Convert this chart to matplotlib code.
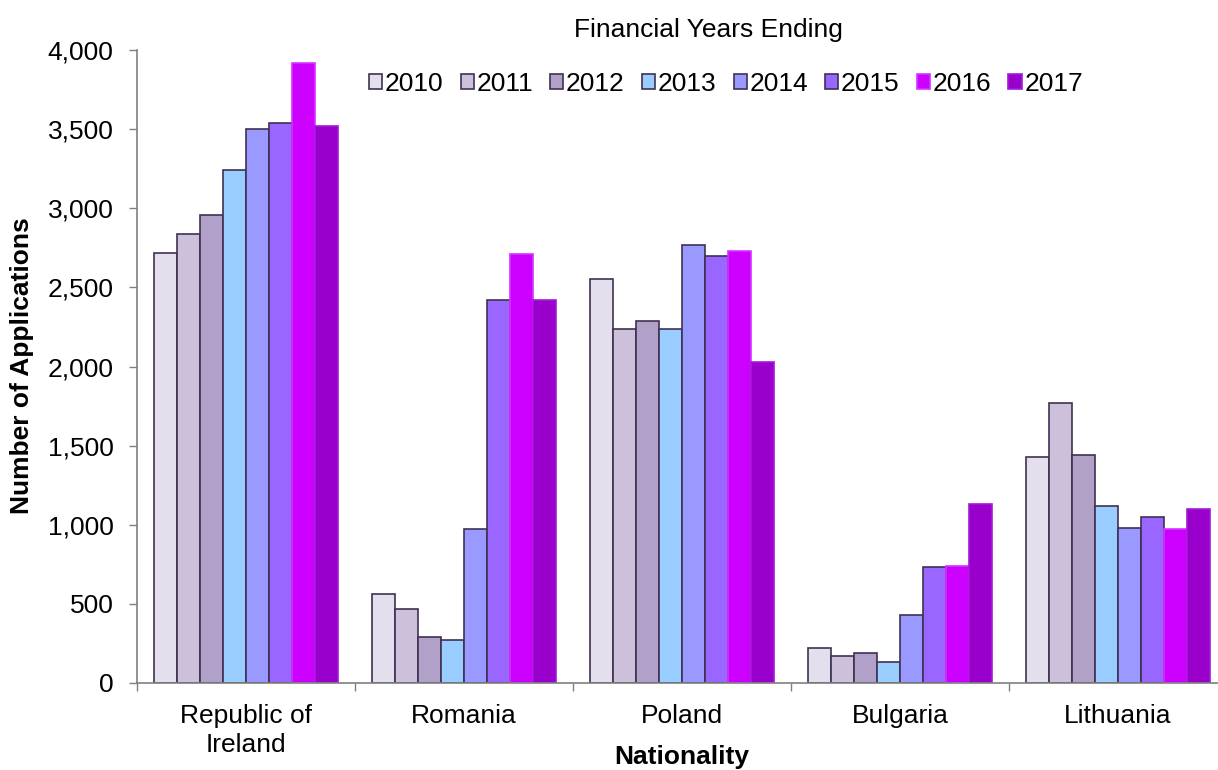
import matplotlib
matplotlib.use("Agg")
import matplotlib.pyplot as plt
import numpy as np
from matplotlib.ticker import FuncFormatter, FixedLocator

plt.rcParams['font.family'] = ['Liberation Sans', 'DejaVu Sans']

categories = ["Republic of\nIreland", "Romania", "Poland", "Bulgaria", "Lithuania"]
years = ["2010", "2011", "2012", "2013", "2014", "2015", "2016", "2017"]
v2010 = [2720, 560, 2550, 220, 1430]
v2011 = [2840, 470, 2240, 170, 1770]
v2012 = [2960, 290, 2290, 190, 1440]
v2013 = [3240, 270, 2240, 130, 1120]
v2014 = [3500, 970, 2770, 430, 980]
v2015 = [3540, 2420, 2700, 730, 1050]
v2016 = [3920, 2710, 2730, 740, 970]
v2017 = [3520, 2420, 2030, 1130, 1100]
series = [v2010, v2011, v2012, v2013, v2014, v2015, v2016, v2017]

colors = ["#E4DFEC", "#CCC0DA", "#B1A0C7", "#99CCFF", "#9999FF", "#9966FF", "#CC00FF", "#9900CC"]
edges = ["#3F3151"] * 6 + ["#D633FF", "#A31AD6"]

FS = 19

fig = plt.figure(figsize=(12.18, 7.70), dpi=100)
ax = fig.add_axes([137/1218, 1 - 683/770, 1090/1218, 633/770])

x = np.arange(len(categories))
w = 0.84 / 8
for i, (vals, c, e) in enumerate(zip(series, colors, edges)):
    ax.bar(x - 0.42 + w * (i + 0.5), vals, width=w, color=c, edgecolor=e,
           linewidth=1.2, label=years[i])

ax.set_xlim(-0.5, 4.5)
ax.set_ylim(0, 4000)
ax.set_yticks(np.arange(0, 4001, 500))
ax.yaxis.set_major_formatter(FuncFormatter(lambda v, p: f"{int(v):,}"))
ax.set_xticks(x)
ax.set_xticklabels(categories, linespacing=1.25)
ax.xaxis.set_minor_locator(FixedLocator(np.arange(-0.5, 4.6, 1.0)))
ax.tick_params(axis='x', which='major', length=0, pad=15, labelsize=FS)
ax.tick_params(axis='x', which='minor', length=6, width=1, color='#808080', direction='out')
ax.tick_params(axis='y', length=6, width=1, color='#808080', direction='out', pad=11, labelsize=FS)

for s in ['top', 'right']:
    ax.spines[s].set_visible(False)
for s in ['left', 'bottom']:
    ax.spines[s].set_color('#808080')
    ax.spines[s].set_linewidth(1.2)

fig.text(22/1218, 1 - 366/770, "Number of Applications", fontsize=FS, fontweight='bold',
         rotation=90, ha='center', va='center')
fig.text(682/1218, 1 - 757/770, "Nationality", fontsize=FS, fontweight='bold', ha='center', va='center')
fig.text(708/1218, 1 - 30/770, "Financial Years Ending", fontsize=FS, ha='center', va='center')

leg = fig.legend(loc='center', bbox_to_anchor=(726/1218, 1 - 84/770), ncol=8, frameon=False,
                 fontsize=FS, handlelength=0.5, handleheight=0.5, handletextpad=0.1,
                 columnspacing=0.65, borderaxespad=0, borderpad=0)

fig.savefig("out.png", dpi=100)
